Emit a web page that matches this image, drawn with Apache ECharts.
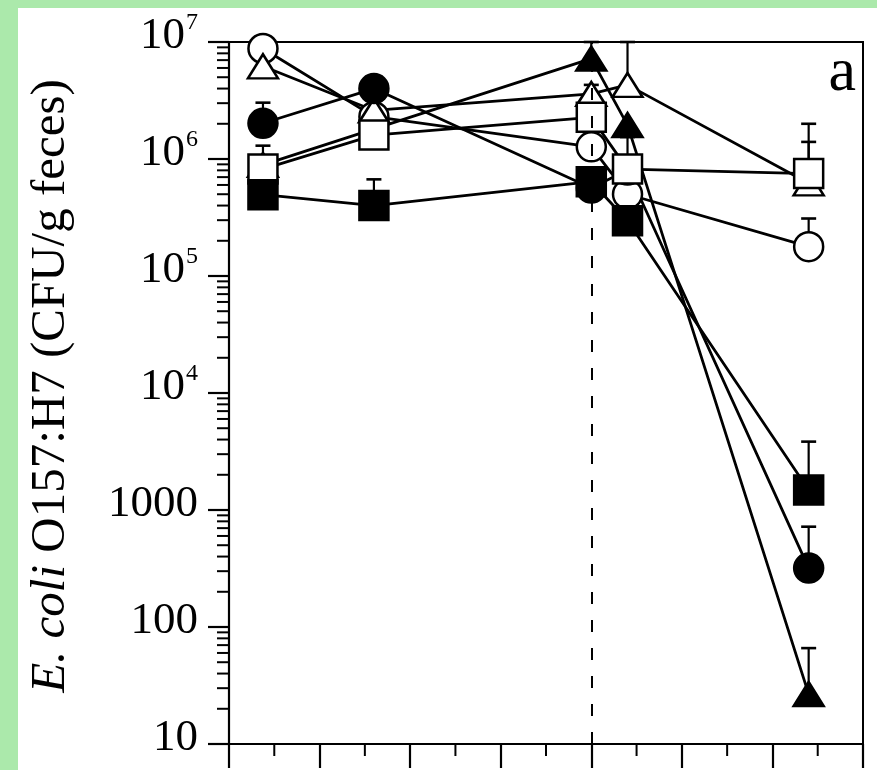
<!DOCTYPE html>
<html><head><meta charset="utf-8">
<script src="https://cdn.jsdelivr.net/npm/echarts@6/dist/echarts.min.js"></script>
<style>
html,body{margin:0;padding:0;background:#abe9ab;width:877px;height:770px;overflow:hidden}
#c{position:absolute;left:18px;top:8px;width:859px;height:762px;background:#fff}
</style></head><body><div id="c"></div>
<script>
// sampling times (x positions, axis units)
const xDays = [0.75, 3.2, 8, 8.8, 12.8];
// mean counts (CFU/g feces)
const openCircle     = [8.8e6, 2.3e6, 1.27e6, 5.0e5, 1.78e5];
const openTriangle   = [6.2e6, 2.6e6, 3.6e6, 4.3e6, 6.2e5];
const filledTriangle = [8.9e5, null, 7.2e6, 1.95e6, 26.7];
const filledCircle   = [2.02e6, 4.0e6, 5.65e5, 8.05e5, 319];
const openSquare     = [8.2e5, 1.6e6, 2.27e6, 8.2e5, 7.5e5];
const filledSquare   = [4.96e5, 4.0e5, 6.4e5, 2.97e5, 1480];
// upper error bar ends
const openCircleErr     = [null, null, null, null, 3.1e5];
const openTriangleErr   = [null, null, 4.3e6, 1e7, 1.4e6];
const filledTriangleErr = [null, null, 1e7, null, 66];
const filledCircleErr   = [3.03e6, null, null, null, 720];
const openSquareErr     = [1.3e6, null, null, 1.54e6, 2.0e6];
const filledSquareErr   = [null, 6.7e5, null, null, 3840];
// axis ticks
const yTicks = [10, 100, 1000, 1e4, 1e5, 1e6, 1e7];
const yTickText = ['10', '100', '1000', '10^4', '10^5', '10^6', '10^7'];
const xMinorTicks = [1, 3, 5, 7, 9, 11, 13];
const xTreatmentDay = 8;
const panelLabel = 'a';

const SERIF = 'Liberation Serif, Times New Roman, serif';
const chart = echarts.init(document.getElementById('c'));

function pts(vals) {
  return xDays.map((x, i) => vals[i] == null ? null : [x, vals[i]]).filter(Boolean);
}
function errs(vals, e) {
  return xDays.map((x, i) => e[i] == null ? null : [x, vals[i], e[i]]).filter(Boolean);
}
const yMinor = [];
for (let i = 0; i < yTicks.length - 1; i++) for (let k = 2; k <= 9; k++) yMinor.push([0, yTicks[i] * k]);

const groups = [
  {v: openCircle, e: openCircleErr, sym: 'circle', size: 29, fill: '#fff'},
  {v: openTriangle, e: openTriangleErr, sym: 'triangle', size: [30, 24], fill: '#fff'},
  {v: filledTriangle, e: filledTriangleErr, sym: 'triangle', size: [30, 24], fill: '#000'},
  {v: filledCircle, e: filledCircleErr, sym: 'circle', size: 29, fill: '#000'},
  {v: openSquare, e: openSquareErr, sym: 'rect', size: 29, fill: '#fff'},
  {v: filledSquare, e: filledSquareErr, sym: 'rect', size: 29, fill: '#000'}
];

const series = [];
groups.forEach(g => {
  series.push({type: 'line', data: pts(g.v), showSymbol: false, z: 2, silent: true,
    lineStyle: {color: '#000', width: 2.8}});
});
groups.forEach(g => {
  series.push({type: 'custom', z: 3, silent: true, data: errs(g.v, g.e),
    encode: {x: 0, y: [1, 2]},
    renderItem: (params, api) => {
      const p0 = api.coord([api.value(0), api.value(1)]);
      const p1 = api.coord([api.value(0), api.value(2)]);
      return {type: 'group', children: [
        {type: 'line', shape: {x1: p0[0], y1: p0[1], x2: p1[0], y2: p1[1]}, style: {stroke: '#000', lineWidth: 2.2}},
        {type: 'line', shape: {x1: p1[0] - 7.5, y1: p1[1], x2: p1[0] + 7.5, y2: p1[1]}, style: {stroke: '#000', lineWidth: 2.6}}
      ]};
    }});
});
groups.forEach(g => {
  series.push({type: 'scatter', data: pts(g.v), symbol: g.sym, symbolSize: g.size, z: 4, silent: true,
    itemStyle: {color: g.fill, borderColor: '#000', borderWidth: 2.5, opacity: 1}});
});
// log minor ticks on the y axis (outward)
series.push({type: 'custom', z: 5, silent: true, clip: false, data: yMinor, encode: {x: 0, y: 1},
  renderItem: (params, api) => {
    const p = api.coord([api.value(0), api.value(1)]);
    return {type: 'line', shape: {x1: p[0] - 12, y1: p[1], x2: p[0], y2: p[1]}, style: {stroke: '#000', lineWidth: 2}};
  }});
// minor ticks on the x axis (outward)
series.push({type: 'custom', z: 5, silent: true, clip: false, data: xMinorTicks.map(x => [x, 10]), encode: {x: 0, y: 1},
  renderItem: (params, api) => {
    const p = api.coord([api.value(0), api.value(1)]);
    return {type: 'line', shape: {x1: p[0], y1: p[1], x2: p[0], y2: p[1] + 12}, style: {stroke: '#000', lineWidth: 2}};
  }});
// dashed vertical reference line
series.push({type: 'line', data: [], z: 6, silent: true,
  markLine: {silent: true, symbol: 'none', label: {show: false}, animation: false,
    lineStyle: {color: '#000', width: 2, type: [12, 16]},
    data: [{xAxis: xTreatmentDay}]}});

chart.setOption({
  animation: false,
  grid: {left: 211, top: 34, right: 14, bottom: 26, show: true, borderColor: '#000', borderWidth: 2},
  xAxis: {type: 'value', min: 0, max: 14, interval: 2,
    axisLine: {lineStyle: {color: '#000', width: 2.2}},
    axisTick: {length: 24, lineStyle: {color: '#000', width: 2.2}},
    minorTick: {show: false},
    axisLabel: {show: false}, splitLine: {show: false}},
  yAxis: {type: 'log', logBase: 10, min: 10, max: 1e7,
    name: '{i|E. coli} O157:H7 (CFU/g feces)', nameLocation: 'middle', nameGap: 153,
    nameTextStyle: {fontFamily: SERIF, fontSize: 49, color: '#000', padding: [0, 0, 0, 14],
      rich: {i: {fontFamily: SERIF, fontSize: 49, fontStyle: 'italic', color: '#000'}}},
    axisLine: {lineStyle: {color: '#000', width: 2.2}},
    axisTick: {length: 21, lineStyle: {color: '#000', width: 2.2}},
    splitLine: {show: false},
    axisLabel: {margin: 31, padding: [0, 0, 17, 0],
      formatter: v => {
        const i = yTicks.findIndex(t => Math.abs(Math.log10(t) - Math.log10(v)) < 1e-6);
        const t = i >= 0 ? yTickText[i] : String(v);
        const parts = t.split('^');
        return parts.length > 1 ? '{b|' + parts[0] + '}{s|' + parts[1] + '}' : '{b|' + t + '}';
      },
      rich: {
        b: {fontFamily: SERIF, fontSize: 45, lineHeight: 45, color: '#000', padding: [5, 0, 0, 0]},
        s: {fontFamily: SERIF, fontSize: 24, lineHeight: 8, verticalAlign: 'top', color: '#000', padding: [0, 0, 0, 1]}
      }}},
  graphic: [{type: 'text', right: 21, top: 35, silent: true,
    style: {text: panelLabel, font: '62px ' + SERIF, fill: '#000'}}],
  series: series
});
</script></body></html>
